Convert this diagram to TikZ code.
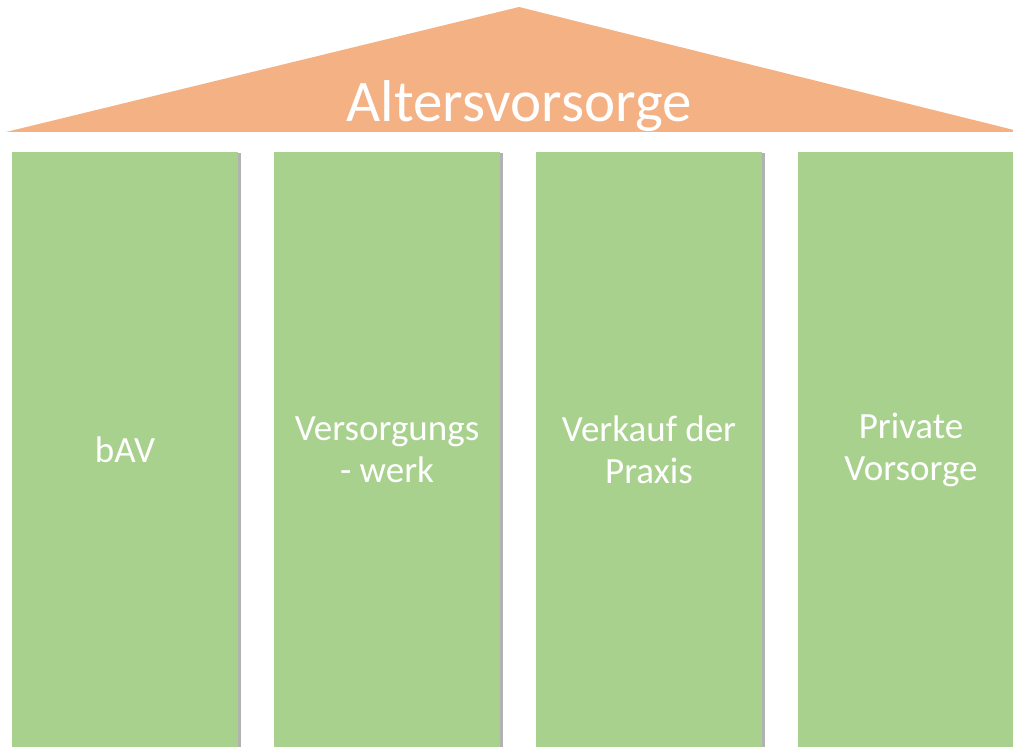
\documentclass[tikz,border=0pt]{standalone}
\usepackage{fontspec}
\setmainfont{Carlito}
\usetikzlibrary{shadows}
\definecolor{roof}{HTML}{F4B183}
\definecolor{pillar}{HTML}{A9D18E}

\begin{document}
\begin{tikzpicture}[x=1pt, y=1pt,
  pillarbox/.style={fill=pillar, minimum width=226pt, minimum height=595pt,
    inner sep=0pt, align=center, text=white, font=\fontsize{37}{42}\selectfont,
    drop shadow={shadow xshift=3pt, shadow yshift=-1pt, opacity=0.3, fill=black}}]
  \useasboundingbox (0,0) rectangle (1013,747);

  \fill[roof] (6,615) -- (519,740) -- (1022,615) -- cycle;
  \node (Title) at (519,625) [anchor=base, text=white,
font=\fontsize{59}{62}\selectfont] {Altersvorsorge};

  \node (bAV) at (125,297.5) [pillarbox] {bAV};
  \node (Werk) at (387,297.5) [pillarbox] {Versorgungs\\- werk};
  \node (Praxis) at (649,297.5) [pillarbox] {Verkauf der\\Praxis};
  \node (Privat) at (911,297.5) [pillarbox] {Private\\Vorsorge};
\end{tikzpicture}
\end{document}
